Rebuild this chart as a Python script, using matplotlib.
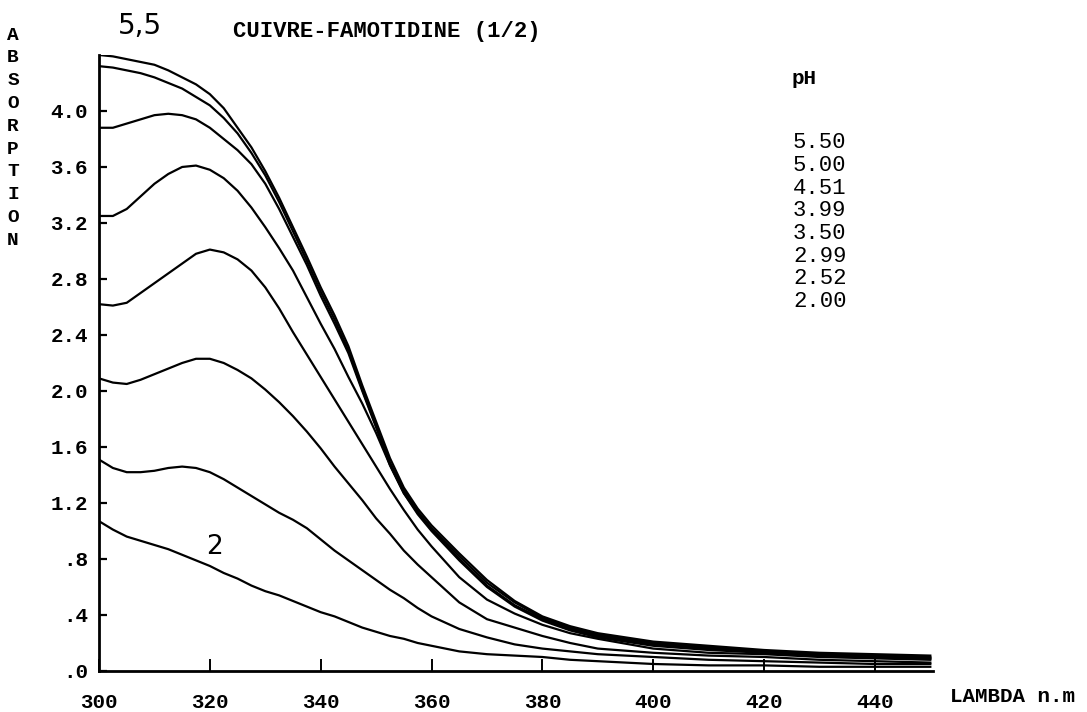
# absorption spectra of the copper-famotidine system (1/2) for several pH values
import matplotlib
matplotlib.use("Agg")
import matplotlib.pyplot as plt

MONO = "Liberation Mono"
SANS = "DejaVu Sans"

# wavelength grid (nm)
lam = [300, 302.5, 305, 307.5, 310, 312.5, 315, 317.5, 320, 322.5, 325, 327.5,
       330, 332.5, 335, 337.5, 340, 342.5, 345, 347.5, 350, 352.5, 355, 357.5,
       360, 365, 370, 375, 380, 385, 390, 400, 410, 420, 430, 440, 450]

# absorbance for each pH, top curve first
ph_labels = ["5.50", "5.00", "4.51", "3.99", "3.50", "2.99", "2.52", "2.00"]
a_550 = [4.40, 4.39, 4.37, 4.35, 4.33, 4.29, 4.24, 4.19, 4.12, 4.02, 3.88, 3.74,
         3.57, 3.38, 3.17, 2.96, 2.74, 2.54, 2.32, 2.04, 1.78, 1.52, 1.31, 1.16,
         1.04, 0.84, 0.65, 0.50, 0.39, 0.32, 0.27, 0.21, 0.18, 0.15, 0.13, 0.12, 0.11]
a_500 = [4.32, 4.31, 4.29, 4.27, 4.24, 4.20, 4.16, 4.10, 4.04, 3.95, 3.84, 3.70,
         3.54, 3.35, 3.14, 2.93, 2.71, 2.51, 2.29, 2.01, 1.75, 1.49, 1.29, 1.14,
         1.02, 0.82, 0.63, 0.49, 0.38, 0.31, 0.26, 0.20, 0.17, 0.14, 0.12, 0.11, 0.10]
a_451 = [3.88, 3.88, 3.91, 3.94, 3.97, 3.98, 3.97, 3.94, 3.88, 3.80, 3.72, 3.62,
         3.48, 3.30, 3.10, 2.90, 2.68, 2.48, 2.27, 2.00, 1.74, 1.47, 1.27, 1.13,
         1.01, 0.80, 0.61, 0.47, 0.37, 0.30, 0.25, 0.19, 0.16, 0.14, 0.12, 0.10, 0.09]
a_399 = [3.25, 3.25, 3.30, 3.39, 3.48, 3.55, 3.60, 3.61, 3.58, 3.52, 3.43, 3.31,
         3.17, 3.02, 2.86, 2.67, 2.48, 2.30, 2.10, 1.91, 1.70, 1.47, 1.27, 1.12,
         1.00, 0.79, 0.60, 0.46, 0.36, 0.29, 0.24, 0.18, 0.15, 0.13, 0.11, 0.10, 0.09]
a_350 = [2.62, 2.61, 2.63, 2.70, 2.77, 2.84, 2.91, 2.98, 3.01, 2.99, 2.94, 2.86,
         2.74, 2.59, 2.42, 2.26, 2.10, 1.94, 1.78, 1.62, 1.46, 1.30, 1.15, 1.01,
         0.89, 0.67, 0.51, 0.41, 0.33, 0.27, 0.23, 0.16, 0.13, 0.12, 0.10, 0.09, 0.08]
a_299 = [2.09, 2.06, 2.05, 2.08, 2.12, 2.16, 2.20, 2.23, 2.23, 2.20, 2.15, 2.09,
         2.01, 1.92, 1.82, 1.71, 1.59, 1.46, 1.34, 1.22, 1.09, 0.98, 0.86, 0.76,
         0.67, 0.49, 0.37, 0.31, 0.25, 0.20, 0.16, 0.13, 0.11, 0.10, 0.08, 0.07, 0.06]
a_252 = [1.51, 1.45, 1.42, 1.42, 1.43, 1.45, 1.46, 1.45, 1.42, 1.37, 1.31, 1.25,
         1.19, 1.13, 1.08, 1.02, 0.94, 0.86, 0.79, 0.72, 0.65, 0.58, 0.52, 0.45,
         0.39, 0.30, 0.24, 0.19, 0.16, 0.14, 0.12, 0.10, 0.08, 0.07, 0.06, 0.05, 0.05]
a_200 = [1.07, 1.01, 0.96, 0.93, 0.90, 0.87, 0.83, 0.79, 0.75, 0.70, 0.66, 0.61,
         0.57, 0.54, 0.50, 0.46, 0.42, 0.39, 0.35, 0.31, 0.28, 0.25, 0.23, 0.20,
         0.18, 0.14, 0.12, 0.11, 0.10, 0.08, 0.07, 0.05, 0.04, 0.04, 0.03, 0.03, 0.03]
spectra = [a_550, a_500, a_451, a_399, a_350, a_299, a_252, a_200]

yticks = [0.0, 0.4, 0.8, 1.2, 1.6, 2.0, 2.4, 2.8, 3.2, 3.6, 4.0]
ytick_labels = [".0", ".4", ".8", "1.2", "1.6", "2.0", "2.4", "2.8", "3.2", "3.6", "4.0"]
xticks = [300, 320, 340, 360, 380, 400, 420, 440]
xtick_labels = ["300", "320", "340", "360", "380", "400", "420", "440"]

fig = plt.figure(figsize=(10.87, 7.12), dpi=100)
ax = fig.add_axes([0.0911, 0.0576, 0.7673, 0.8652])

for a in spectra:
    ax.plot(lam, a, color="black", lw=1.6, solid_joinstyle="round")

ax.set_xlim(300, 450.5)
ax.set_ylim(0, 4.40)

for side in ["top", "right"]:
    ax.spines[side].set_visible(False)
for side in ["left", "bottom"]:
    ax.spines[side].set_linewidth(2.0)

ax.set_yticks(yticks)
ax.set_yticklabels(ytick_labels, fontfamily=MONO, fontweight="bold", fontsize=15)
ax.set_xticks(xticks)
ax.set_xticklabels(xtick_labels, fontfamily=MONO, fontweight="bold", fontsize=15)
ax.tick_params(axis="y", direction="in", length=6, width=1.6, pad=8)
ax.tick_params(axis="x", direction="in", length=9, width=1.4, pad=16)

# curve marker for the lowest pH
ax.text(320.8, 0.886, "2", fontfamily=SANS, fontsize=19, ha="center", va="center")

# headings
fig.text(140 / 1087, 1 - 26 / 712, "5,5", fontfamily=SANS, fontsize=20,
         ha="center", va="center")
fig.text(233 / 1087, 1 - 31 / 712, "CUIVRE-FAMOTIDINE (1/2)", fontfamily=MONO,
         fontweight="bold", fontsize=16, ha="left", va="center")

# vertical axis title, one letter per line
for i, ch in enumerate("ABSORPTION"):
    fig.text(13 / 1087, 1 - (35 + i * 22.8) / 712, ch, fontfamily=MONO,
             fontweight="bold", fontsize=14, ha="center", va="center")

fig.text(950 / 1087, 1 - 697 / 712, "LAMBDA n.m", fontfamily=MONO,
         fontweight="bold", fontsize=15, ha="left", va="center")

# pH list
fig.text(792 / 1087, 1 - 79 / 712, "pH", fontfamily=MONO, fontweight="bold",
         fontsize=15, ha="left", va="center")
for i, lab in enumerate(ph_labels):
    fig.text(793 / 1087, 1 - (143 + i * 22.6) / 712, lab, fontfamily=MONO,
             fontsize=16, ha="left", va="center")

fig.savefig("out.png", dpi=100, facecolor="white")
